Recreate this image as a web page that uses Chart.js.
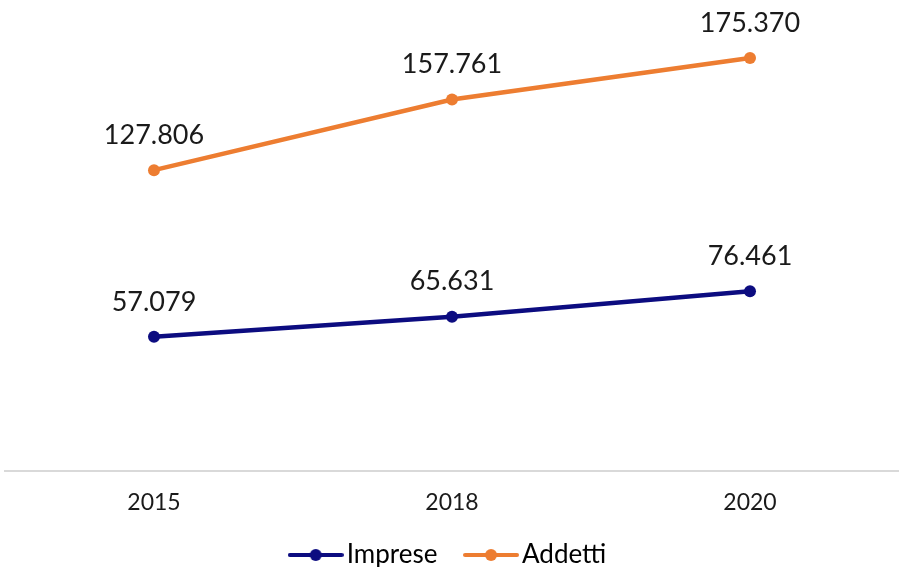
<!DOCTYPE html>
<html>
<head>
<meta charset="utf-8">
<script src="https://cdn.jsdelivr.net/npm/chart.js@4.4.1/dist/chart.umd.min.js"></script>
<style>
  html, body { margin: 0; padding: 0; background: #fff; overflow: hidden; }
  canvas { display: block; }
</style>
</head>
<body>
<canvas id="chart" width="899" height="567"></canvas>
<script>
const years = ['2015', '2018', '2020'];
const imprese = [57079, 65631, 76461];
const addetti = [127806, 157761, 175370];
const seriesNames = ['Imprese', 'Addetti'];
const colors = ['#0c0c80', '#ed7d31'];

const FONT = 'Lato, "DejaVu Sans", sans-serif';

// legend marker: line with a dot in the middle
function legendMarker(color) {
    const c = document.createElement('canvas');
    c.width = 56; c.height = 14;
    const ctx = c.getContext('2d');
    ctx.strokeStyle = color;
    ctx.lineWidth = 4;
    ctx.lineCap = 'round';
    ctx.beginPath();
    ctx.moveTo(2, 7); ctx.lineTo(54, 7);
    ctx.stroke();
    ctx.fillStyle = color;
    ctx.beginPath();
    ctx.arc(28, 7, 6, 0, Math.PI * 2);
    ctx.fill();
    return c;
}

function fmt(v) {
    return v.toString().replace(/\B(?=(\d{3})+(?!\d))/g, '.');
}

const valueLabels = {
    id: 'valueLabels',
    afterDatasetsDraw(chart) {
        const ctx = chart.ctx;
        ctx.save();
        ctx.font = '27px ' + FONT;
        ctx.fillStyle = '#1a1a1a';
        ctx.textAlign = 'center';
        ctx.textBaseline = 'middle';
        chart.data.datasets.forEach((ds, i) => {
            chart.getDatasetMeta(i).data.forEach((pt, j) => {
                ctx.fillText(fmt(ds.data[j]), pt.x, pt.y - 35);
            });
        });
        ctx.restore();
    }
};

new Chart(document.getElementById('chart'), {
    type: 'line',
    data: {
        labels: years,
        datasets: [
            { label: seriesNames[0], data: imprese, borderColor: colors[0], backgroundColor: colors[0],
              borderWidth: 4.5, pointRadius: 6, pointBackgroundColor: colors[0], pointBorderWidth: 0,
              pointStyle: 'circle', fill: false, tension: 0 },
            { label: seriesNames[1], data: addetti, borderColor: colors[1], backgroundColor: colors[1],
              borderWidth: 4.5, pointRadius: 6, pointBackgroundColor: colors[1], pointBorderWidth: 0,
              pointStyle: 'circle', fill: false, tension: 0 }
        ]
    },
    options: {
        responsive: false,
        devicePixelRatio: 1,
        animation: false,
        // legend is cut at the bottom edge, as in the original
        layout: { autoPadding: false, padding: { left: 5, right: 0, top: 0, bottom: -11 } },
        plugins: {
            tooltip: { enabled: false },
            legend: {
                position: 'bottom',
                labels: {
                    font: { size: 26, family: FONT },
                    color: '#1a1a1a',
                    padding: 9,
                    usePointStyle: true,
                    pointStyleWidth: 36,
                    boxHeight: 14,
                    generateLabels(chart) {
                        return chart.data.datasets.map((ds, i) => ({
                            // extra trailing spaces widen the gap between items
                            text: i === 0 ? ds.label + '    ' : ds.label,
                            fillStyle: ds.borderColor,
                            strokeStyle: ds.borderColor,
                            lineWidth: 0,
                            pointStyle: legendMarker(ds.borderColor),
                            datasetIndex: i,
                            hidden: false
                        }));
                    }
                }
            }
        },
        scales: {
            x: {
                offset: true,
                grid: { display: false, drawTicks: false },
                border: { display: true, color: '#d9d9d9', width: 2 },
                ticks: { font: { size: 23, family: FONT }, color: '#1a1a1a', padding: 17 }
            },
            y: {
                display: false,
                min: 0,
                max: 200000
            }
        }
    },
    plugins: [valueLabels]
});
</script>
</body>
</html>
